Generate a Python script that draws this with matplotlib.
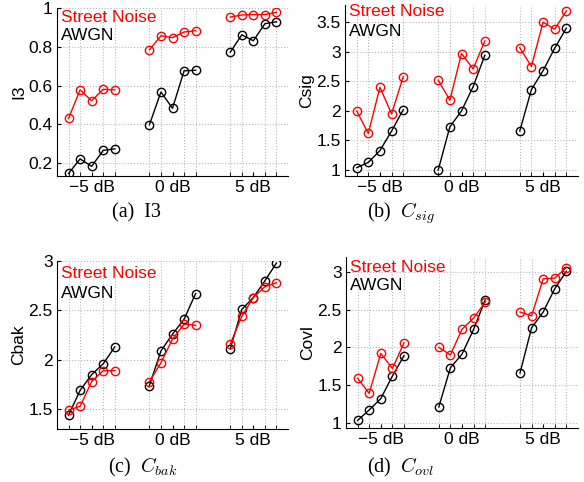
import matplotlib
matplotlib.use('Agg')
import matplotlib.pyplot as plt
import matplotlib.transforms as mtransforms

plt.rcParams['font.family'] = ['Liberation Sans', 'DejaVu Sans']
plt.rcParams['mathtext.fontset'] = 'cm'

# x positions: three SNR groups of five points each
x_pos = [1, 2, 3, 4, 5, 8, 9, 10, 11, 12, 15, 16, 17, 18, 19]
group_ticks = [3, 10, 17]
group_labels = ['\u22125 dB', '0 dB', '5 dB']

# I3
i3_street = [[0.431, 0.578, 0.522, 0.581, 0.578],
             [0.784, 0.857, 0.847, 0.876, 0.883],
             [0.953, 0.964, 0.966, 0.966, 0.978]]
i3_awgn = [[0.147, 0.222, 0.184, 0.266, 0.274],
           [0.398, 0.567, 0.483, 0.676, 0.679],
           [0.772, 0.862, 0.831, 0.919, 0.929]]

# Csig
csig_street = [[2.00, 1.62, 2.40, 1.95, 2.58],
               [2.52, 2.18, 2.97, 2.71, 3.18],
               [3.07, 2.75, 3.50, 3.38, 3.69]]
csig_awgn = [[1.04, 1.13, 1.33, 1.66, 2.02],
             [1.00, 1.73, 2.00, 2.41, 2.94],
             [1.66, 2.36, 2.68, 3.06, 3.40]]

# Cbak
cbak_street = [[1.49, 1.53, 1.78, 1.89, 1.89],
               [1.78, 1.97, 2.21, 2.36, 2.35],
               [2.16, 2.44, 2.63, 2.74, 2.78]]
cbak_awgn = [[1.44, 1.69, 1.85, 1.96, 2.13],
             [1.74, 2.09, 2.26, 2.41, 2.67],
             [2.11, 2.51, 2.63, 2.80, 2.98]]

# Covl
covl_street = [[1.59, 1.39, 1.92, 1.72, 2.06],
               [2.00, 1.90, 2.24, 2.39, 2.60],
               [2.47, 2.42, 2.91, 2.92, 3.06]]
covl_awgn = [[1.03, 1.17, 1.32, 1.62, 1.89],
             [1.21, 1.73, 1.91, 2.24, 2.63],
             [1.66, 2.26, 2.47, 2.78, 3.01]]

W, H = 584, 482
fig = plt.figure(figsize=(W / 100, H / 100), dpi=100)

panels = [
    # left, right, top, bottom (px), ylabel, ylim, yticks, data, caption, caption xy, legend y
    (57, 288, 8, 176, 'I3', (0.134, 1.0), [0.2, 0.4, 0.6, 0.8, 1],
     i3_street, i3_awgn, '(a)  I3', (136, 213), (17, 35)),
    (345, 578, 5, 176, 'Csig', (0.9, 3.79), [1, 1.5, 2, 2.5, 3, 3.5],
     csig_street, csig_awgn, '(b)  $C_{sig}$', (401, 213), (12, 32)),
    (57, 288, 261, 429, 'Cbak', (1.3, 3.0), [1.5, 2, 2.5, 3],
     cbak_street, cbak_awgn, '(c)  $C_{bak}$', (143, 467), (273, 293)),
    (346, 578, 257, 428, 'Covl', (0.93, 3.2), [1, 1.5, 2, 2.5, 3],
     covl_street, covl_awgn, '(d)  $C_{ovl}$', (401, 467), (267, 286)),
]

shift = mtransforms.ScaledTranslation(-8 / 100, 0, fig.dpi_scale_trans)

for (l, r, t, b, ylab, ylim, yt, street, awgn, cap, capxy, legy) in panels:
    ax = fig.add_axes([l / W, 1 - b / H, (r - l) / W, (b - t) / H])
    for g in range(3):
        xs = x_pos[g * 5:(g + 1) * 5]
        ax.plot(xs, awgn[g], '-o', color='black', mfc='none', ms=6, mew=1, lw=1)
        ax.plot(xs, street[g], '-o', color='red', mfc='none', ms=6, mew=1, lw=1)
    ax.set_xlim(0, 20)
    ax.set_ylim(*ylim)
    ax.set_yticks(yt)
    ax.set_yticklabels([('%g' % v) for v in yt])
    ax.set_xticks(x_pos, minor=True)
    ax.set_xticks(group_ticks)
    ax.set_xticklabels(group_labels)
    first = ax.get_xticklabels()[0]
    first.set_transform(first.get_transform() + shift)
    ax.grid(True, which='minor', axis='x', ls=':', color='#b8b8b8', lw=0.8)
    ax.grid(True, which='major', axis='y', ls=':', color='#b8b8b8', lw=0.8)
    ax.spines['top'].set_visible(False)
    ax.spines['right'].set_visible(False)
    ax.tick_params(which='both', direction='in', length=3, labelsize=12.5, pad=3)
    ax.set_ylabel(ylab, fontsize=12.5, labelpad=2)
    fig.text((l + 4) / W, 1 - legy[0] / H, 'Street Noise', color='red',
             fontsize=12.5, va='center', ha='left')
    fig.text((l + 4) / W, 1 - legy[1] / H, 'AWGN', color='black',
             fontsize=12.5, va='center', ha='left')
    fig.text(capxy[0] / W, 1 - capxy[1] / H, cap, fontsize=14.5,
             family='Liberation Serif', ha='center', va='center')

fig.savefig('out.png', dpi=100)
